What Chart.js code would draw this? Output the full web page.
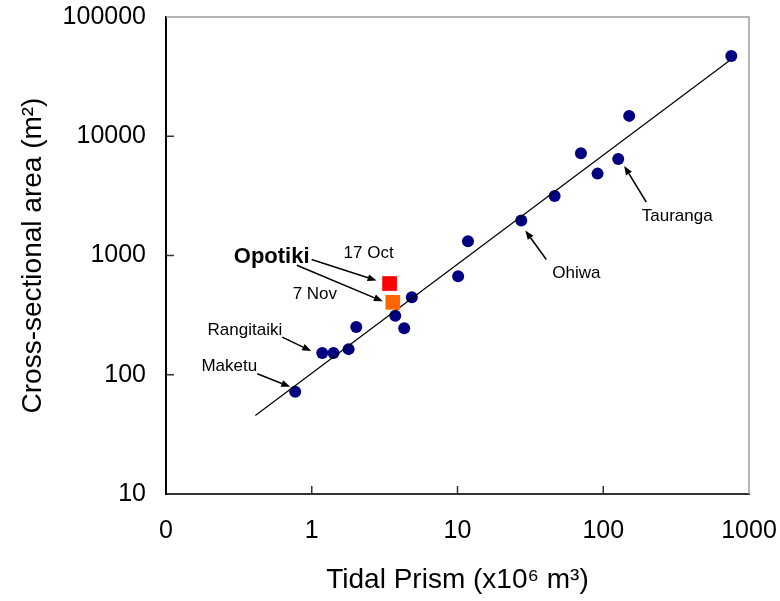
<!DOCTYPE html>
<html>
<head>
<meta charset="utf-8">
<script src="https://cdn.jsdelivr.net/npm/chart.js@4.4.1/dist/chart.umd.min.js"></script>
<style>
  body { margin: 0; background: #fff; }
  canvas { display: block; }
</style>
</head>
<body>
<canvas id="prismChart" width="780" height="601"></canvas>
<script>
// Tidal inlets: tidal prism (x10^6 m3) vs throat cross-sectional area (m2)
const inletNames = ['Maketu', 'Rangitaiki', '', '', '', '', '', '', '', '', 'Ohiwa', '', '', '', 'Tauranga', '', ''];
const inletPrism = [0.77, 1.18, 1.41, 1.79, 2.02, 3.74, 4.31, 4.86, 10.1, 11.8, 27.4, 46.4, 70.3, 91.4, 126.7, 150.7, 756];
const inletArea = [72, 152, 152, 164, 252, 313, 245, 446, 670, 1318, 1968, 3150, 7200, 4860, 6445, 14820, 47000];

// Opotiki surveys
const octPrism = [3.42];
const octArea = [582];
const novPrism = [3.60];
const novArea = [405];

// power-law fit, end points
const fitPrism = [0.41, 729];
const fitArea = [45.5, 42700];

const xTickValues = [0.1, 1, 10, 100, 1000];
const xTickLabels = ['0', '1', '10', '100', '1000'];
const yTickValues = [10, 100, 1000, 10000, 100000];
const yTickLabels = ['10', '100', '1000', '10000', '100000'];

const FONT = '"Liberation Sans", Arial, sans-serif';

function pairs(xs, ys) {
    return xs.map((x, i) => ({ x: x, y: ys[i] }));
}

// label / arrow offsets in pixels, relative to the point they name
const inletCallouts = {
    'Maketu':     { text: [-38, -25, 'right'], tail: [-38, -18], head: [-5, -5] },
    'Rangitaiki': { text: [-40, -23, 'right'], tail: [-40, -16], head: [-11, -2] },
    'Ohiwa':      { text: [55, 53, 'center'],  tail: [25, 39],   head: [4, 10] },
    'Tauranga':   { text: [59, 57, 'center'],  tail: [28, 43],   head: [6, 7] }
};

function drawArrow(ctx, x0, y0, x1, y1) {
    const ang = Math.atan2(y1 - y0, x1 - x0);
    const len = 9, half = 3.5;
    const bx = x1 - len * Math.cos(ang), by = y1 - len * Math.sin(ang);
    ctx.beginPath();
    ctx.moveTo(x0, y0);
    ctx.lineTo(bx, by);
    ctx.stroke();
    ctx.beginPath();
    ctx.moveTo(x1, y1);
    ctx.lineTo(bx - half * Math.sin(ang), by + half * Math.cos(ang));
    ctx.lineTo(bx + half * Math.sin(ang), by - half * Math.cos(ang));
    ctx.closePath();
    ctx.fill();
}

const annotatePlugin = {
    id: 'annotate',
    beforeDatasetsDraw(chart) {
        const ctx = chart.ctx;
        const a = chart.chartArea;
        ctx.save();
        // grey top and right frame
        ctx.strokeStyle = '#9a9a9a';
        ctx.lineWidth = 1.5;
        ctx.beginPath();
        ctx.moveTo(a.left, a.top);
        ctx.lineTo(a.right, a.top);
        ctx.lineTo(a.right, a.bottom);
        ctx.stroke();
        // inward tick marks
        ctx.strokeStyle = '#333';
        ctx.lineWidth = 1.5;
        xTickValues.slice(1, -1).forEach(v => {
            const px = chart.scales.x.getPixelForValue(v);
            ctx.beginPath();
            ctx.moveTo(px, a.bottom);
            ctx.lineTo(px, a.bottom - 8);
            ctx.stroke();
        });
        yTickValues.slice(1, -1).forEach(v => {
            const py = chart.scales.y.getPixelForValue(v);
            ctx.beginPath();
            ctx.moveTo(a.left, py);
            ctx.lineTo(a.left + 8, py);
            ctx.stroke();
        });
        ctx.restore();
    },
    afterDatasetsDraw(chart) {
        const ctx = chart.ctx;
        const xs = chart.scales.x, ys = chart.scales.y;
        ctx.save();
        ctx.fillStyle = '#000';
        ctx.strokeStyle = '#000';
        ctx.lineWidth = 1.5;
        ctx.textBaseline = 'middle';
        ctx.font = '17px ' + FONT;

        inletNames.forEach((name, i) => {
            const c = inletCallouts[name];
            if (!c) return;
            const px = xs.getPixelForValue(inletPrism[i]);
            const py = ys.getPixelForValue(inletArea[i]);
            ctx.textAlign = c.text[2];
            ctx.fillText(name, px + c.text[0], py + c.text[1]);
            drawArrow(ctx, px + c.tail[0], py + c.tail[1], px + c.head[0], py + c.head[1]);
        });

        // Opotiki: two surveys
        const ox = xs.getPixelForValue(octPrism[0]), oy = ys.getPixelForValue(octArea[0]);
        const nx = xs.getPixelForValue(novPrism[0]), ny = ys.getPixelForValue(novArea[0]);
        ctx.textAlign = 'center';
        ctx.fillText('17 Oct', ox - 21, oy - 30);
        ctx.fillText('7 Nov', nx - 78, ny - 8);
        drawArrow(ctx, ox - 78, oy - 24, ox - 13, oy - 3);
        drawArrow(ctx, nx - 96, ny - 37, nx - 10, ny - 1);
        ctx.font = 'bold 22px ' + FONT;
        ctx.textAlign = 'right';
        ctx.fillText('Opotiki', ox - 80, oy - 27);
        ctx.restore();
    }
};

const ctx = document.getElementById('prismChart').getContext('2d');

new Chart(ctx, {
    type: 'scatter',
    data: {
        datasets: [{
            label: '17 Oct',
            data: pairs(octPrism, octArea),
            pointStyle: 'rect',
            pointRadius: 10.4,
            backgroundColor: '#ff0000',
            borderWidth: 0,
            order: 0
        }, {
            label: '7 Nov',
            data: pairs(novPrism, novArea),
            pointStyle: 'rect',
            pointRadius: 10.4,
            backgroundColor: '#ff6600',
            borderWidth: 0,
            order: 0
        }, {
            label: 'Fit',
            data: pairs(fitPrism, fitArea),
            showLine: true,
            pointRadius: 0,
            borderColor: '#000',
            borderWidth: 1.2,
            order: 1
        }, {
            label: 'Inlets',
            data: pairs(inletPrism, inletArea),
            pointRadius: 6,
            backgroundColor: '#000080',
            borderWidth: 0,
            order: 2
        }]
    },
    options: {
        responsive: false,
        animation: false,
        events: [],
        layout: { padding: { top: 17, right: 31, left: 0, bottom: 0 } },
        plugins: {
            legend: { display: false },
            tooltip: { enabled: false }
        },
        scales: {
            x: {
                type: 'logarithmic',
                min: 0.1,
                max: 1000,
                afterBuildTicks: s => { s.ticks = xTickValues.map(v => ({ value: v })); },
                afterFit: s => {
                    s.height = 107;
                    s.paddingLeft = 0;
                    s.paddingRight = 0;
                },
                grid: { display: false, drawTicks: false },
                border: { display: true, color: '#333', width: 2 },
                ticks: {
                    color: '#000',
                    font: { family: FONT, size: 25 },
                    padding: 22,
                    maxRotation: 0,
                    autoSkip: false,
                    callback: v => xTickLabels[xTickValues.indexOf(v)]
                },
                title: {
                    display: true,
                    text: 'Tidal Prism (x10\u2076 m\u00b3)',
                    color: '#000',
                    font: { family: FONT, size: 28 },
                    padding: { top: 0, bottom: 4 }
                }
            },
            y: {
                type: 'logarithmic',
                min: 10,
                max: 100000,
                afterBuildTicks: s => { s.ticks = yTickValues.map(v => ({ value: v })); },
                afterFit: s => {
                    s.width = 166;
                    s.paddingTop = 0;
                    s.paddingBottom = 0;
                },
                grid: { display: false, drawTicks: false },
                border: { display: true, color: '#000', width: 2 },
                ticks: {
                    color: '#000',
                    font: { family: FONT, size: 25 },
                    padding: 20,
                    autoSkip: false,
                    callback: v => yTickLabels[yTickValues.indexOf(v)]
                },
                title: {
                    display: true,
                    text: 'Cross-sectional area (m\u00b2)',
                    color: '#000',
                    font: { family: FONT, size: 28 },
                    padding: { top: 16, bottom: 0 }
                }
            }
        }
    },
    plugins: [annotatePlugin]
});
</script>
</body>
</html>
